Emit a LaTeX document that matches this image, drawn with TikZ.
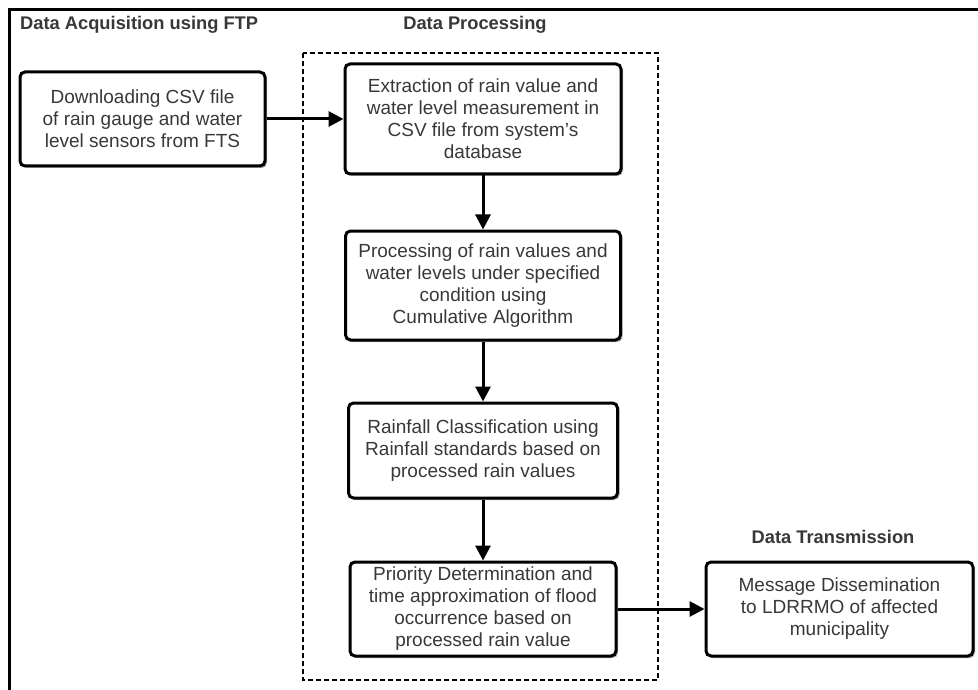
\documentclass[tikz,border=0pt]{standalone}
\usepackage{fontspec}
\setmainfont{Liberation Sans}
\usetikzlibrary{arrows.meta,shadows}
\begin{document}
\begin{tikzpicture}[x=1pt,y=-1pt,
  procbox/.style={draw=black,line width=3pt,rounded corners=5pt,fill=white,
    align=center,text=black!78,inner sep=0pt,
    font=\fontsize{19}{22}\selectfont,
    drop shadow={shadow xshift=2pt,shadow yshift=-2pt,fill=black,opacity=0.3}},
  title/.style={font=\fontsize{18.3}{21}\selectfont\bfseries,text=black!78,inner sep=0pt},
  flow/.style={line width=3pt,-{Triangle[length=15pt,width=15pt]}}]
\useasboundingbox (0,0) rectangle (978,690);
\fill[white] (0,0) rectangle (978,690);
% outer frame (left and top)
\draw[line width=3pt] (9,690) -- (9,10) -- (978,10);
% dashed region
\draw[line width=1.3pt,dash pattern=on 5pt off 3pt] (303,53) rectangle (658,680);
% titles
\node[title,anchor=west] (t1) at (20,25) {Data Acquisition using FTP};
\node[title] (t2) at (475,25) {Data Processing};
\node[title] (t3) at (833,537) {Data Transmission};
% boxes
\node[procbox,minimum width=245pt,minimum height=94pt] (b1) at (142.5,119)
  {Downloading CSV file\\of rain gauge and water\\level sensors from FTS};
\node[procbox,minimum width=276pt,minimum height=110pt] (b2) at (483,119)
  {Extraction of rain value and\\water level measurement in\\CSV file from system's\\database};
\node[procbox,minimum width=275pt,minimum height=109pt] (b3) at (483,285.5)
  {Processing of rain values and\\water levels under specified\\condition using\\Cumulative Algorithm};
\node[procbox,minimum width=269pt,minimum height=95pt] (b4) at (483,450.5)
  {Rainfall Classification using\\Rainfall standards based on\\processed rain values};
\node[procbox,minimum width=266pt,minimum height=94pt] (b5) at (483,609)
  {Priority Determination and\\time approximation of flood\\occurrence based on\\processed rain value};
\node[procbox,minimum width=267pt,minimum height=94pt] (b6) at (839.5,609)
  {Message Dissemination\\to LDRRMO of affected\\municipality};
% connectors
\draw[flow] (b1.east) -- (b2.west);
\draw[flow] (b2.south) -- (b3.north);
\draw[flow] (b3.south) -- (b4.north);
\draw[flow] (b4.south) -- (b5.north);
\draw[flow] (b5.east) -- (b6.west);
\end{tikzpicture}
\end{document}
